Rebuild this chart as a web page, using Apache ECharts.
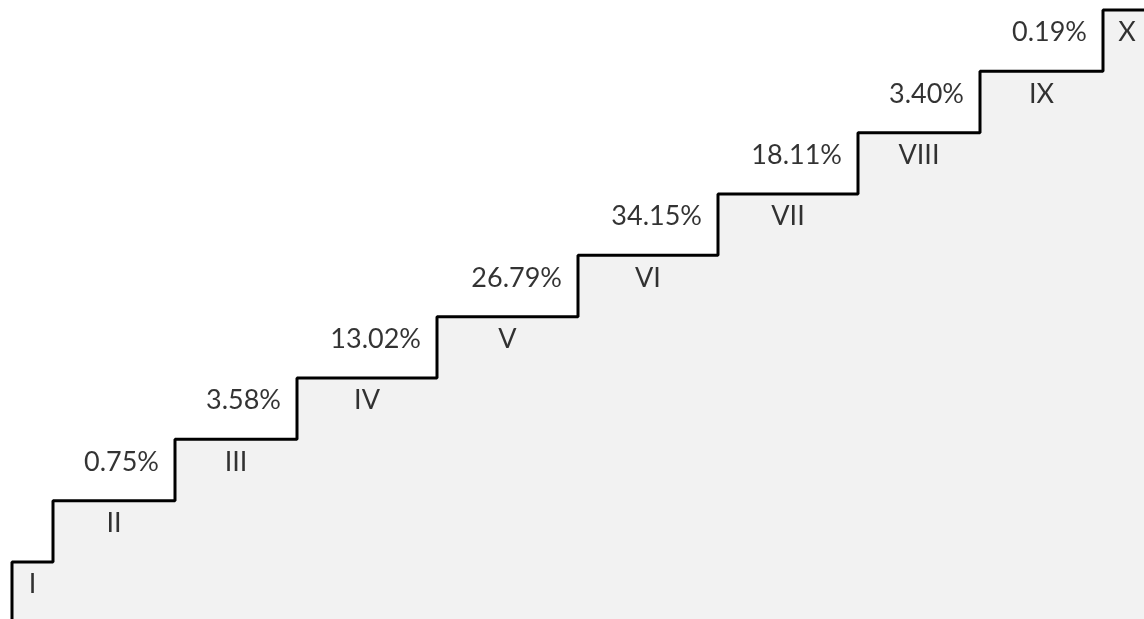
<!DOCTYPE html>
<html>
<head>
<meta charset="utf-8">
<script src="https://cdn.jsdelivr.net/npm/echarts@6/dist/echarts.min.js"></script>
<style>
html,body{margin:0;padding:0;background:#fff;}
#chart{width:1144px;height:619px;}
</style>
</head>
<body>
<div id="chart"></div>
<script>
// Step boundaries (x units) and levels
const stepEdges = [12, 53, 175, 297, 437, 578, 718, 858, 980, 1103, 1151];
const stepNames = ['I', 'II', 'III', 'IV', 'V', 'VI', 'VII', 'VIII', 'IX', 'X'];
const stepLevels = [1, 2, 3, 4, 5, 6, 7, 8, 9, 10];
const shares = [null, null, 0.75, 3.58, 13.02, 26.79, 34.15, 18.11, 3.40, 0.19];

const yMin = 0.07, yMax = 10.163;
const labelDrop = 0.37;

// staircase line points
const linePts = [[stepEdges[0], yMin]];
for (let i = 0; i < stepLevels.length; i++) {
  linePts.push([stepEdges[i + 1], stepLevels[i]]);
}
const nameData = stepNames.map((n, i) => [(stepEdges[i] + stepEdges[i + 1]) / 2, stepLevels[i] - labelDrop, n]);
const shareData = [];
shares.forEach((s, i) => {
  if (s !== null) shareData.push([stepEdges[i], stepLevels[i] - labelDrop, s.toFixed(2) + '%']);
});

const font = { fontFamily: 'Lato', fontSize: 27, color: '#000' };

const chart = echarts.init(document.getElementById('chart'));
chart.setOption({
  animation: false,
  grid: { left: 0, right: 0, top: 0, bottom: 0 },
  xAxis: { type: 'value', min: 0, max: 1144, show: false },
  yAxis: { type: 'value', min: yMin, max: yMax, show: false },
  series: [
    {
      type: 'line',
      step: 'start',
      data: linePts,
      symbol: 'none',
      lineStyle: { color: '#000', width: 3 },
      areaStyle: { color: '#f2f2f2', opacity: 1 },
      z: 2
    },
    {
      type: 'scatter',
      data: nameData,
      symbolSize: 0,
      label: Object.assign({ show: true, position: 'inside', formatter: p => p.value[2] }, font),
      z: 3
    },
    {
      type: 'scatter',
      data: shareData,
      symbolSize: 0,
      label: Object.assign({ show: true, position: 'left', distance: 16, align: 'right', formatter: p => p.value[2] }, font),
      z: 3
    }
  ]
});
</script>
</body>
</html>
